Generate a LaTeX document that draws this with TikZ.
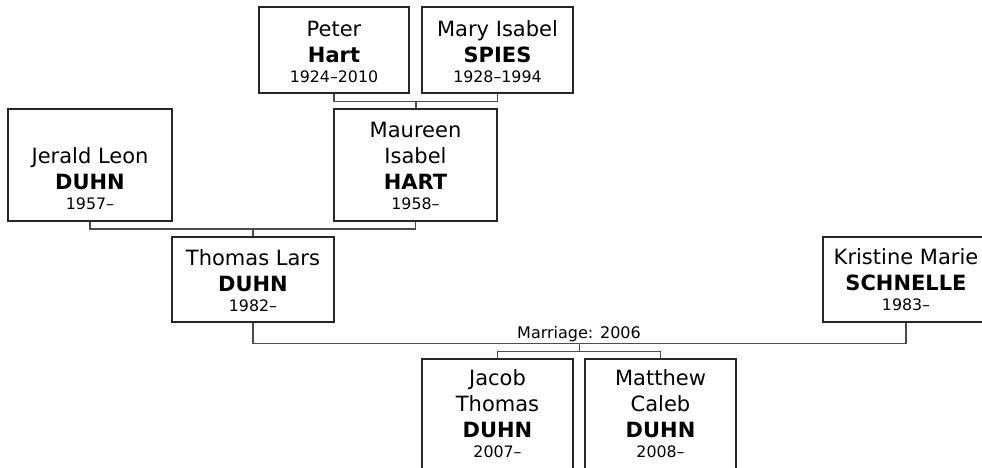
\documentclass[tikz,border=0pt]{standalone}
\usepackage{fontspec}
\setmainfont{DejaVu Sans}
\usetikzlibrary{calc}
\newcommand\namefont{\fontsize{21}{26}\selectfont}
\newcommand\datefont{\fontsize{15.8}{19}\selectfont}
\newcommand\lblfont{\fontsize{16}{19}\selectfont}
\tikzset{
  person/.style={draw=black!85, line width=1.2pt, fill=white, rectangle, inner sep=0pt},
  ptext/.style={align=center, inner sep=0pt, anchor=south, font=\namefont},
  conn/.style={draw=black!70, line width=1.5pt},
}
\begin{document}
\begin{tikzpicture}[x=1pt,y=-1pt]
\clip (0,0) rectangle (982,468);
% boxes
\node[person, minimum width=150, minimum height=86] (peter) at (334,50) {};
\node[person, minimum width=151, minimum height=86] (mary) at (497.5,50) {};
\node[person, minimum width=163, minimum height=112] (maureen) at (415.5,165) {};
\node[person, minimum width=164, minimum height=112] (jerald) at (90,165) {};
\node[person, minimum width=162, minimum height=85] (thomas) at (253,279.5) {};
\node[person, minimum width=166, minimum height=85] (kristine) at (906,279.5) {};
\node[person, minimum width=151, minimum height=112] (jacob) at (497.5,415) {};
\node[person, minimum width=151, minimum height=112] (matthew) at (660.5,415) {};
% texts
\node[ptext] (peter-t) at (334,83) {Peter\\\textbf{Hart}\\[-5.5pt]{\datefont 1924–2010}};
\node[ptext] (mary-t) at (497.5,83) {Mary Isabel\\\textbf{SPIES}\\[-5.5pt]{\datefont 1928–1994}};
\node[ptext] (maureen-t) at (415.5,210) {Maureen\\Isabel\\\textbf{HART}\\[-5.5pt]{\datefont 1958–}};
\node[ptext] (jerald-t) at (90,210) {Jerald Leon\\\textbf{DUHN}\\[-5.5pt]{\datefont 1957–}};
\node[ptext] (thomas-t) at (253,312) {Thomas Lars\\\textbf{DUHN}\\[-5.5pt]{\datefont 1982–}};
\node[ptext] (kristine-t) at (906,311) {Kristine Marie\\\textbf{SCHNELLE}\\[-5.5pt]{\datefont 1983–}};
\node[ptext] (jacob-t) at (497.5,458) {Jacob\\Thomas\\\textbf{DUHN}\\[-5.5pt]{\datefont 2007–}};
\node[ptext] (matthew-t) at (660.5,458) {Matthew\\Caleb\\\textbf{DUHN}\\[-5.5pt]{\datefont 2008–}};
% connectors
\draw[conn] (peter.south) -- ++(0,8) -| (mary.south);
\coordinate (pm) at ($(peter.south)!.5!(mary.south)+(0,8)$);
\draw[conn] (pm) -- (pm |- maureen.north);
\draw[conn] (jerald.south) -- ++(0,7.5) -| (maureen.south);
\coordinate (jm) at ($(jerald.south)!.5!(maureen.south)+(0,7.5)$);
\draw[conn] (jm) -- (jm |- thomas.north);
\draw[conn] (thomas.south) -- ++(0,21) -| (kristine.south);
\coordinate (tk) at ($(thomas.south)!.5!(kristine.south)+(0,21)$);
\coordinate (tkc) at ($(tk)+(0,8)$);
\draw[conn] (tk) -- (tkc);
\draw[conn] (jacob.north) -- (jacob.north |- tkc) -- (matthew.north |- tkc) -- (matthew.north);
\node[font=\lblfont, anchor=base, inner sep=0pt] (mlabel) at (579,338) {Marriage: 2006};
\end{tikzpicture}
\end{document}
